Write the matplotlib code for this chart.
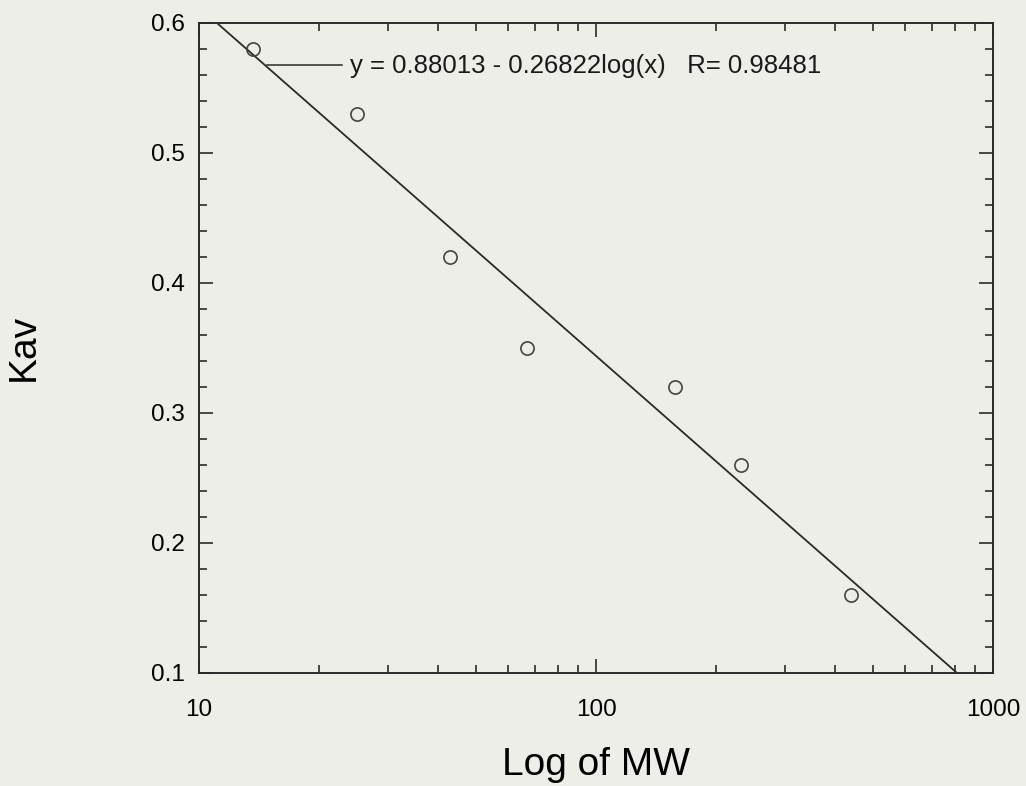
import numpy as np
import matplotlib
matplotlib.use("Agg")
import matplotlib.pyplot as plt
from matplotlib.ticker import FixedLocator, FixedFormatter, NullFormatter, LogLocator

# Data (molecular weight standards, kDa) and partition coefficients
mw = [13.7, 25.0, 43.0, 67.0, 158.0, 232.0, 440.0]
kav = [0.58, 0.53, 0.42, 0.35, 0.32, 0.26, 0.16]

# Regression line shown on chart
intercept = 0.88013
slope = -0.26822
r_value = 0.98481

xticks = [10, 100, 1000]
xtick_labels = ["10", "100", "1000"]
yticks = [0.1, 0.2, 0.3, 0.4, 0.5, 0.6]

bg = "#EDEEE8"
ink = "#2a2a2a"

plt.rcParams['font.family'] = ['Liberation Sans', 'DejaVu Sans']

fig = plt.figure(figsize=(10.26, 7.86), dpi=100, facecolor=bg)
ax = fig.add_axes([199/1026, 1 - 672.7/786, (993-199)/1026, (672.7-22.7)/786])
ax.set_facecolor(bg)

ax.set_xscale('log')
ax.set_xlim(10, 1000)
ax.set_ylim(0.1, 0.6)

# fit line
xf = np.logspace(1, 3, 200)
yf = intercept + slope * np.log10(xf)
ax.plot(xf, yf, color=ink, lw=1.3, clip_on=True)

# data points
ax.plot(mw, kav, linestyle='none', marker='o', ms=9.5, mfc='none', mec='#444444', mew=1.2)

# annotation
ax.plot([0.0856, 0.180], [0.935, 0.935], transform=ax.transAxes, color=ink, lw=1.1)
ax.text(0.190, 0.933, f"y = {intercept:.5f} - {abs(slope):.5f}log(x)   R= {r_value:.5f}",
        transform=ax.transAxes, ha='left', va='center', fontsize=18.5, color='#1a1a1a')

# ticks
ax.xaxis.set_major_locator(FixedLocator(xticks))
ax.xaxis.set_major_formatter(FixedFormatter(xtick_labels))
ax.xaxis.set_minor_locator(LogLocator(base=10, subs=np.arange(2, 10)))
ax.xaxis.set_minor_formatter(NullFormatter())
ax.set_yticks(yticks)
ax.set_yticklabels([f"{v:.1f}" for v in yticks])
ax.set_yticks(np.arange(0.12, 0.6, 0.02), minor=True)

ax.tick_params(which='both', direction='in', top=True, right=True, color=ink, width=1.2)
ax.tick_params(which='major', length=10, labelsize=17.5)
ax.tick_params(which='minor', length=5.5)
ax.tick_params(axis='x', which='major', pad=19)
ax.tick_params(axis='y', which='major', pad=10)

for s in ax.spines.values():
    s.set_color(ink)
    s.set_linewidth(1.4)

ax.set_xlabel("Log of MW", fontsize=28)
ax.set_ylabel("Kav", fontsize=28)
ax.xaxis.set_label_coords(0.5, -0.114)
ax.yaxis.set_label_coords(-0.198, 0.5)

fig.savefig("out.png", dpi=100, facecolor=bg)
